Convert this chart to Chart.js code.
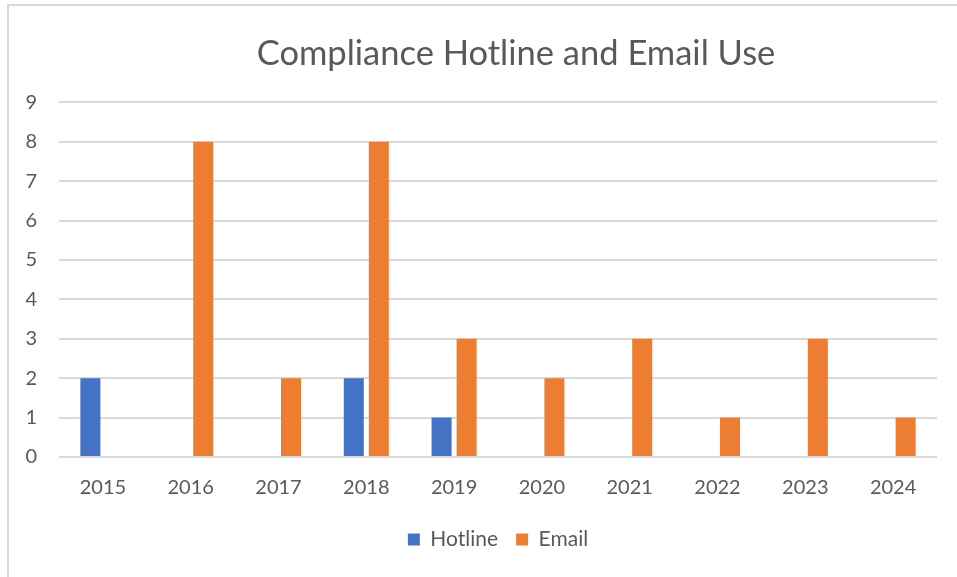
<!DOCTYPE html>
<html>
<head>
<meta charset="utf-8">
<script src="https://cdn.jsdelivr.net/npm/chart.js@4/dist/chart.umd.min.js"></script>
<style>
  html, body { margin:0; padding:0; background:#fff; overflow:hidden; }
  #wrap { position:absolute; left:0; top:0; width:1032px; height:577px; }
  #frame { position:absolute; left:7px; top:4px; width:1100px; height:600px;
           border-left:2px solid #d9d9d9; border-top:2px solid #d9d9d9; }
</style>
</head>
<body>
<div id="frame"></div>
<div id="wrap"><canvas id="graf"></canvas></div>
<script>
var years = ['2015','2016','2017','2018','2019','2020','2021','2022','2023','2024'];
var hotline = [2, 0, 0, 2, 1, 0, 0, 0, 0, 0];
var email = [0, 8, 2, 8, 3, 2, 3, 1, 3, 1];

var tekst = '#595959';

var graf = new Chart(document.getElementById('graf'), {
    type:'bar',
    data:{
        labels:years,
        datasets:[{
            label:'Hotline',
            data:hotline,
            backgroundColor:'#4472C4'
        },{
            label:'Email',
            data:email,
            backgroundColor:'#ED7D31'
        }]
    },
    options:{
        responsive:true,
        maintainAspectRatio:false,
        animation:false,
        categoryPercentage:0.57,
        barPercentage:0.8,
        layout:{ padding:{ left:0, right:0, top:23, bottom:17 } },
        plugins:{
            title:{
                display:true,
                text:'Compliance Hotline and Email Use',
                color:tekst,
                font:{ family:'Lato', size:34.5, weight:'normal' },
                padding:{ top:10, bottom:28 }
            },
            legend:{
                position:'bottom',
                fullSize:false,
                labels:{
                    color:tekst,
                    font:{ family:'Lato', size:21 },
                    boxWidth:12,
                    boxHeight:12,
                    padding:18
                }
            },
            tooltip:{ enabled:false }
        },
        scales:{
            x:{
                grid:{ display:false },
                border:{ display:false },
                ticks:{ color:tekst, font:{ family:'Lato', size:20 }, padding:11 }
            },
            y:{
                min:0,
                max:9,
                ticks:{ stepSize:1, color:tekst, font:{ family:'Lato', size:20 }, padding:22 },
                grid:{ color:'#d9d9d9', lineWidth:2, drawTicks:false },
                border:{ display:false },
                afterFit:function(scale){ scale.width = 59; }
            },
            // lege os desno, samo da zauzme mjesto
            prazno:{
                position:'right',
                min:0,
                max:9,
                ticks:{ display:false },
                grid:{ display:false },
                border:{ display:false },
                afterFit:function(scale){ scale.width = 95; }
            }
        }
    }
});
</script>
</body>
</html>
